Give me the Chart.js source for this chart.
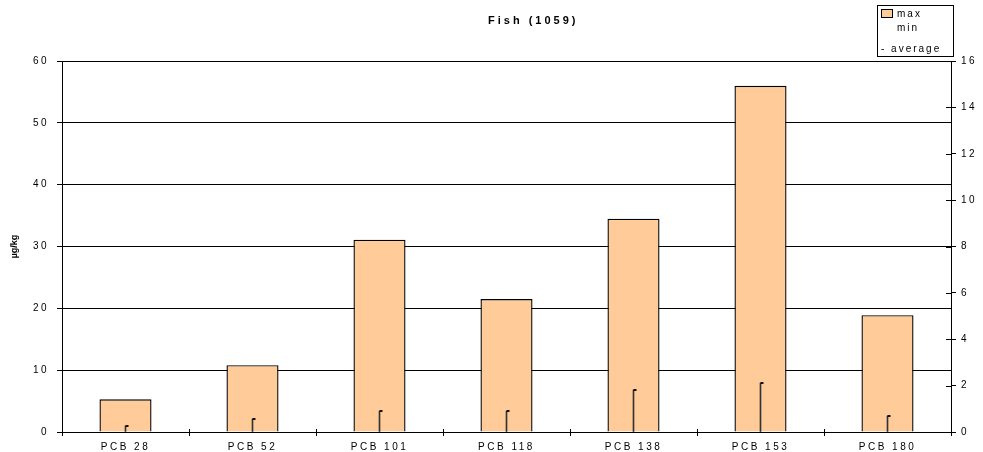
<!DOCTYPE html>
<html>
<head>
<meta charset="utf-8">
<script src="https://cdn.jsdelivr.net/npm/chart.js@4/dist/chart.umd.min.js"></script>
<style>
  html, body { margin: 0; padding: 0; background: #fff; }
  #wrap { width: 983px; height: 452px; }
</style>
</head>
<body>
<div id="wrap"><canvas id="fishChart"></canvas></div>
<script>
'use strict'

var categories = ['PCB 28', 'PCB 52', 'PCB 101', 'PCB 118', 'PCB 138', 'PCB 153', 'PCB 180'];
var maxVals = [5.3, 10.8, 31.1, 21.5, 34.5, 56.0, 18.9];
var minVals = [0, 0, 0, 0, 0, 0, 0];
var avgVals = [0.26, 0.56, 0.9, 0.9, 1.81, 2.11, 0.69];
var leftTicks = [0, 10, 20, 30, 40, 50, 60];
var rightTicks = [0, 2, 4, 6, 8, 10, 12, 14, 16];
var chartTitle = 'Fish (1059)';
var unitTitle = 'µg/kg';

var FONT = "'Liberation Sans', Arial, sans-serif";

// little tick to the right of the average line
var tickMark = document.createElement('canvas');
tickMark.width = 8;
tickMark.height = 2;
var tctx = tickMark.getContext('2d');
tctx.fillStyle = '#111';
tctx.fillRect(4, 0, 3, 2);

var spacing = {
  id: 'spacing',
  beforeLayout: function (chart) { chart.ctx.letterSpacing = '2.5px'; },
  beforeDraw: function (chart) { chart.ctx.letterSpacing = '2.5px'; }
};

var texts = {
  id: 'texts',
  afterDraw: function (chart) {
    var ctx = chart.ctx;
    var area = chart.chartArea;
    ctx.save();
    ctx.fillStyle = '#000';
    ctx.textBaseline = 'middle';

    // title
    ctx.letterSpacing = '3px';
    ctx.font = 'bold 11px ' + FONT;
    ctx.textAlign = 'left';
    ctx.fillText(chartTitle, 488, 21);

    // unit title, rotated
    ctx.letterSpacing = '0px';
    ctx.font = 'bold 9px ' + FONT;
    ctx.save();
    ctx.translate(15, (area.top + area.bottom) / 2);
    ctx.rotate(-Math.PI / 2);
    ctx.textAlign = 'center';
    ctx.fillText(unitTitle, 0, 0);
    ctx.restore();

    // legend box
    ctx.letterSpacing = '2px';
    ctx.fillStyle = '#fff';
    ctx.fillRect(877.5, 5.5, 76, 51);
    ctx.strokeStyle = '#000';
    ctx.lineWidth = 1;
    ctx.strokeRect(877.5, 5.5, 76, 51);
    ctx.fillStyle = '#FFCC99';
    ctx.fillRect(881.5, 9.5, 11, 8);
    ctx.strokeRect(881.5, 9.5, 11, 8);
    ctx.fillStyle = '#000';
    ctx.font = '10px ' + FONT;
    ctx.textAlign = 'left';
    ctx.fillText('max', 897, 14);
    ctx.fillText('min', 897, 28);
    ctx.fillText('- average', 881, 49);
    ctx.restore();
  }
};

var innerTicks = {
  id: 'innerTicks',
  afterDatasetsDraw: function (chart) {
    var ctx = chart.ctx;
    var s = chart.scales.y1;
    var x = chart.scales.x;
    ctx.save();
    ctx.strokeStyle = '#000';
    ctx.lineWidth = 1;
    rightTicks.forEach(function (v) {
      var y = Math.round(s.getPixelForValue(v)) + 0.5;
      ctx.beginPath();
      ctx.moveTo(s.left - 5, y);
      ctx.lineTo(s.left, y);
      ctx.stroke();
    });
    // category separators poke above the axis
    for (var i = 1; i < categories.length; i++) {
      var px = Math.round((x.getPixelForValue(i - 1) + x.getPixelForValue(i)) / 2) + 0.5;
      ctx.beginPath();
      ctx.moveTo(px, x.top - 3);
      ctx.lineTo(px, x.top);
      ctx.stroke();
    }
    ctx.restore();
  }
};

var fishChart = new Chart(document.getElementById('fishChart'), {
  type: 'bar',
  data: {
    labels: categories,
    datasets: [
      {
        label: 'max',
        data: maxVals,
        yAxisID: 'y',
        grouped: false,
        backgroundColor: '#FFCC99',
        borderColor: '#000',
        borderWidth: 1.4,
        categoryPercentage: 1,
        barPercentage: 0.41,
        order: 3
      },
      {
        label: 'min - average',
        data: categories.map(function (c, i) { return [minVals[i], avgVals[i]]; }),
        yAxisID: 'y1',
        grouped: false,
        backgroundColor: '#333',
        borderWidth: 0,
        barThickness: 1,
        order: 2
      },
      {
        type: 'line',
        label: 'average',
        data: avgVals,
        yAxisID: 'y1',
        showLine: false,
        pointStyle: tickMark,
        pointRadius: 4,
        order: 1
      }
    ]
  },
  options: {
    responsive: true,
    maintainAspectRatio: false,
    animation: false,
    layout: { padding: { top: 61, left: 0, right: 0, bottom: 0 } },
    plugins: {
      legend: { display: false },
      tooltip: { enabled: false },
      title: { display: false }
    },
    scales: {
      x: {
        offset: true,
        grid: { offset: true, drawOnChartArea: false, color: '#000', tickLength: 4 },
        border: { color: '#000' },
        ticks: { color: '#000', font: { family: FONT, size: 10 }, padding: 5, maxRotation: 0 },
        afterFit: function (s) { s.height = 20; }
      },
      y: {
        position: 'left',
        min: 0,
        max: leftTicks[leftTicks.length - 1],
        afterBuildTicks: function (s) { s.ticks = leftTicks.map(function (v) { return { value: v }; }); },
        grid: { color: '#000', tickLength: 5 },
        border: { color: '#000' },
        ticks: { color: '#000', font: { family: FONT, size: 10 }, padding: 8 },
        afterFit: function (s) { s.width = 62; }
      },
      y1: {
        position: 'right',
        min: 0,
        max: rightTicks[rightTicks.length - 1],
        afterBuildTicks: function (s) { s.ticks = rightTicks.map(function (v) { return { value: v }; }); },
        grid: { drawOnChartArea: false, color: '#000', tickLength: 5 },
        border: { color: '#000' },
        ticks: { color: '#000', font: { family: FONT, size: 10 }, padding: 5 },
        afterFit: function (s) { s.width = 32; }
      }
    }
  },
  plugins: [spacing, innerTicks, texts]
});
</script>
</body>
</html>
